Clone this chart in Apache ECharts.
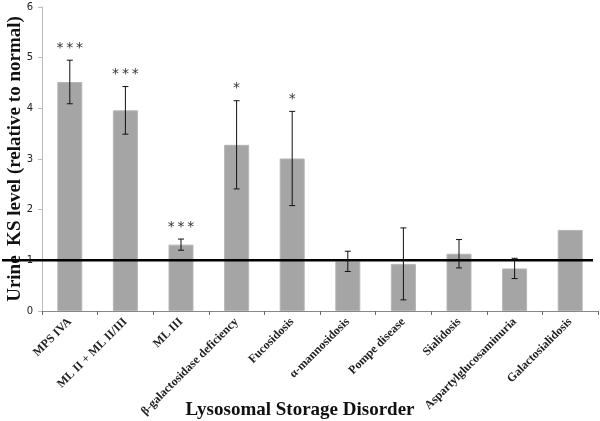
<!DOCTYPE html>
<html><head><meta charset="utf-8">
<script src="https://cdn.jsdelivr.net/npm/echarts@6/dist/echarts.min.js"></script>
<style>html,body{margin:0;padding:0;background:#fff}#c{width:600px;height:421px}</style>
</head><body><div id="c"></div>
<script>
const categories = ['MPS IVA','ML II + ML II/III','ML III','β-galactosidase deficiency','Fucosidosis','α-mannosidosis','Pompe disease','Sialidosis','Aspartylglucosaminuria','Galactosialidosis'];
const values = [4.52, 3.96, 1.31, 3.28, 3.01, 0.98, 0.93, 1.13, 0.84, 1.60];
const errors = [0.43, 0.47, 0.11, 0.87, 0.93, 0.20, 0.71, 0.28, 0.20, 0];
const significance = ['***','***','***','*','*','','','','',''];
const yTicks = [0,1,2,3,4,5,6];
const referenceLevel = 1;

const chart = echarts.init(document.getElementById('c'));
const errData = values.map((v,i)=>[i, v, errors[i], significance[i]]);
chart.setOption({
  animation:false,
  backgroundColor:'#fff',
  grid:[{left:42,right:2,top:7,bottom:110,containLabel:false,outerBoundsMode:'none'},
        {left:2,right:7,top:7,bottom:110,containLabel:false,outerBoundsMode:'none'}],
  xAxis:[{
    type:'category', data:categories, gridIndex:0,
    axisLine:{lineStyle:{color:'#888',width:1}},
    axisTick:{show:true,length:4,lineStyle:{color:'#666'},alignWithLabel:false},
    axisLabel:{rotate:45,interval:0,margin:9,fontFamily:'Liberation Serif',fontWeight:'bold',fontSize:12,color:'#222'},
    name:'Lysosomal Storage Disorder', nameLocation:'middle', nameGap:90, nameMoveOverlap:false,
    nameTextStyle:{fontFamily:'Liberation Serif',fontWeight:'bold',fontSize:19,color:'#111',padding:[0,40,0,0]}
  },{type:'value',gridIndex:1,min:0,max:1,show:false}],
  yAxis:[{
    type:'value', min:yTicks[0], max:yTicks[yTicks.length-1], interval:1, gridIndex:0,
    axisLine:{show:true,lineStyle:{color:'#bbb'}},
    axisTick:{show:true,length:4,lineStyle:{color:'#bbb'}},
    splitLine:{show:false},
    axisLabel:{margin:9,fontFamily:'DejaVu Sans',fontSize:10,color:'#222'},
    name:'Urine  KS level (relative to normal)', nameLocation:'middle', nameGap:17, nameMoveOverlap:false,
    nameTextStyle:{fontFamily:'Liberation Serif',fontWeight:'bold',fontSize:19,color:'#111'}
  },{type:'value',gridIndex:1,min:yTicks[0],max:yTicks[yTicks.length-1],show:false}],
  series:[{
    type:'bar', data:values, barWidth:25, xAxisIndex:0,yAxisIndex:0,
    itemStyle:{color:'#a5a5a5',borderColor:'#b5b5b5',borderWidth:1}, z:2
  },{
    type:'line', xAxisIndex:1, yAxisIndex:1, data:[[0,referenceLevel],[1,referenceLevel]],
    symbol:'none', lineStyle:{color:'#000',width:2.5}, z:5
  },{
    type:'custom', xAxisIndex:0,yAxisIndex:0, data:errData, z:6,
    renderItem:function(params,api){
      const i=api.value(0), v=api.value(1), e=api.value(2);
      const sig = errData[params.dataIndex][3];
      const children=[];
      if(e>0){
        const top=api.coord([i,v+e]), bot=api.coord([i,v-e]);
        const st={stroke:'#111',lineWidth:1};
        children.push({type:'line',shape:{x1:top[0],y1:top[1],x2:bot[0],y2:bot[1]},style:st});
        children.push({type:'line',shape:{x1:top[0]-3,y1:top[1],x2:top[0]+3,y2:top[1]},style:st});
        children.push({type:'line',shape:{x1:bot[0]-3,y1:bot[1],x2:bot[0]+3,y2:bot[1]},style:st});
        if(sig){
          children.push({type:'text',x:top[0],y:top[1]-5,style:{text:sig.split('').join('\u2009'),font:'14px DejaVu Sans',fill:'#333',align:'center',verticalAlign:'bottom'}});
        }
      }
      return {type:'group',children:children};
    }
  }]
});
</script></body></html>
